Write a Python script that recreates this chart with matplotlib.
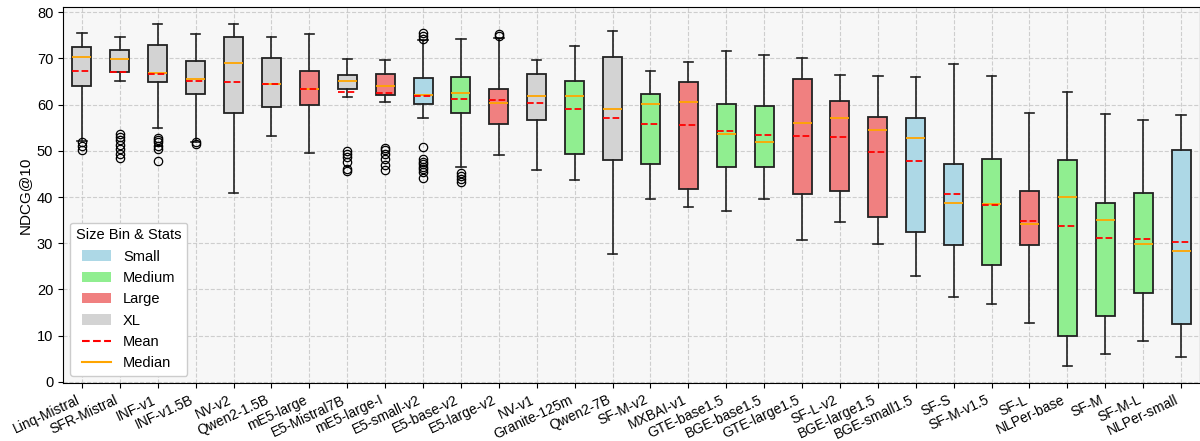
import matplotlib
matplotlib.use("Agg")
import matplotlib.pyplot as plt
from matplotlib.patches import Patch
from matplotlib.lines import Line2D

plt.rcParams['font.family'] = ['Liberation Sans', 'DejaVu Sans']

models = ["Linq-Mistral", "SFR-Mistral", "INF-v1", "INF-v1.5B", "NV-v2", "Qwen2-1.5B",
          "mE5-large", "E5-Mistral7B", "mE5-large-I", "E5-small-v2", "E5-base-v2",
          "E5-large-v2", "NV-v1", "Granite-125m", "Qwen2-7B", "SF-M-v2", "MXBAI-v1",
          "GTE-base1.5", "BGE-base1.5", "GTE-large1.5", "SF-L-v2", "BGE-large1.5",
          "BGE-small1.5", "SF-S", "SF-M-v1.5", "SF-L", "NLPer-base", "SF-M", "SF-M-L",
          "NLPer-small"]
size_bin = ["XL", "XL", "XL", "XL", "XL", "XL", "Large", "XL", "Large", "Small", "Medium",
            "Large", "XL", "Medium", "XL", "Medium", "Large", "Medium", "Medium", "Large",
            "Large", "Large", "Small", "Small", "Medium", "Large", "Medium", "Medium",
            "Medium", "Small"]
whis_lo = [52.2, 65.1, 54.9, 52.0, 40.9, 53.2, 49.6, 61.6, 60.5, 57.2, 46.6, 49.1, 45.8,
           43.7, 27.7, 39.5, 37.9, 37.0, 39.6, 30.8, 34.5, 29.9, 22.9, 18.3, 16.9, 12.8,
           3.4, 6.1, 8.9, 5.4]
q1 = [64.1, 67.0, 64.9, 62.4, 58.1, 59.5, 60.0, 63.4, 62.1, 60.2, 58.1, 55.9, 56.6, 49.4,
      47.9, 47.2, 41.8, 46.6, 46.5, 40.6, 41.4, 35.7, 32.4, 29.7, 25.2, 29.7, 9.9, 14.3,
      19.3, 12.5]
median = [70.3, 69.9, 66.9, 65.6, 68.9, 64.5, 63.4, 65.2, 64.0, 62.0, 62.6, 60.3, 61.9,
          61.9, 59.0, 60.1, 60.5, 53.7, 51.8, 56.1, 57.2, 54.6, 52.8, 38.6, 38.4, 34.1,
          40.1, 35.0, 29.8, 28.3]
mean = [67.3, 67.1, 66.6, 65.1, 64.9, 64.4, 63.3, 62.8, 62.5, 61.9, 61.3, 61.0, 60.4,
        59.0, 57.0, 55.9, 55.6, 54.3, 53.5, 53.3, 52.9, 49.7, 47.7, 40.6, 38.3, 34.9,
        33.7, 31.1, 30.9, 30.3]
q3 = [72.4, 71.9, 72.8, 69.5, 74.7, 70.1, 67.2, 66.5, 66.6, 65.7, 65.9, 63.4, 66.6, 65.2,
      70.3, 62.4, 64.9, 60.2, 59.7, 65.6, 60.7, 57.4, 57.1, 47.1, 48.3, 41.2, 47.9, 38.8,
      40.8, 50.2]
whis_hi = [75.6, 74.7, 77.5, 75.2, 77.4, 74.7, 75.2, 69.9, 69.6, 73.9, 74.3, 74.4, 69.7,
           72.7, 75.9, 67.2, 69.3, 71.6, 70.7, 70.1, 66.4, 66.2, 65.9, 68.7, 66.2, 58.2,
           62.8, 58.0, 56.7, 57.7]
fliers = [
    [51.8, 51.0, 50.1],
    [53.7, 53.0, 52.3, 51.2, 50.3, 49.3, 48.4],
    [52.8, 52.3, 51.8, 51.0, 50.3, 47.7],
    [51.8, 51.5],
    [], [], [],
    [49.9, 49.3, 48.6, 47.6, 46.0, 45.6],
    [50.5, 50.1, 49.2, 48.2, 47.0, 45.8],
    [75.4, 74.9, 74.1, 50.9, 48.2, 47.6, 47.1, 46.5, 46.0, 45.5, 44.2],
    [45.3, 44.5, 43.9, 43.3],
    [75.2, 74.9],
    [], [], [], [], [], [], [], [], [], [], [], [], [], [], [], [], [], [],
]

bin_colors = {"Small": "lightblue", "Medium": "lightgreen", "Large": "lightcoral", "XL": "lightgrey"}

stats = []
for i, name in enumerate(models):
    stats.append(dict(label=name, whislo=whis_lo[i], q1=q1[i], med=median[i], mean=mean[i],
                      q3=q3[i], whishi=whis_hi[i], fliers=fliers[i]))

fig = plt.figure(figsize=(12, 4.41), dpi=100)
ax = fig.add_axes([0.0525, 0.131, 0.9475, 0.854])
ax.set_facecolor('#f7f7f7')
ax.grid(True, linestyle='--', color='#c4c4c4', linewidth=0.8, alpha=0.8)
ax.set_axisbelow(True)

bp = ax.bxp(stats, showmeans=True, meanline=True, patch_artist=True, widths=0.5,
            boxprops=dict(edgecolor='#222222', linewidth=1.3),
            whiskerprops=dict(color='#222222', linewidth=1.2),
            capprops=dict(color='#222222', linewidth=1.2),
            medianprops=dict(color='orange', linewidth=1.3),
            meanprops=dict(color='red', linestyle='--', linewidth=1.3),
            flierprops=dict(marker='o', markerfacecolor='none', markeredgecolor='black',
                            markersize=6, markeredgewidth=0.9))
for patch, b in zip(bp['boxes'], size_bin):
    patch.set_facecolor(bin_colors[b])

ax.set_xlim(0.5, len(models) + 0.5)
ax.set_yticks(range(0, 81, 10))
ax.tick_params(axis='y', labelsize=10.5)
ax.set_xticklabels(models, rotation=25, ha='right', fontsize=10)
ax.set_ylabel("NDCG@10", fontsize=11)

handles = [Patch(facecolor=bin_colors[k], label=k) for k in ["Small", "Medium", "Large", "XL"]]
handles += [Line2D([0], [0], color='red', linestyle='--', label='Mean'),
            Line2D([0], [0], color='orange', label='Median')]
ax.legend(handles=handles, title="Size Bin & Stats", loc='lower left', fontsize=10.5,
          title_fontsize=10.5, framealpha=1.0)

fig.savefig("out.png", dpi=100)
